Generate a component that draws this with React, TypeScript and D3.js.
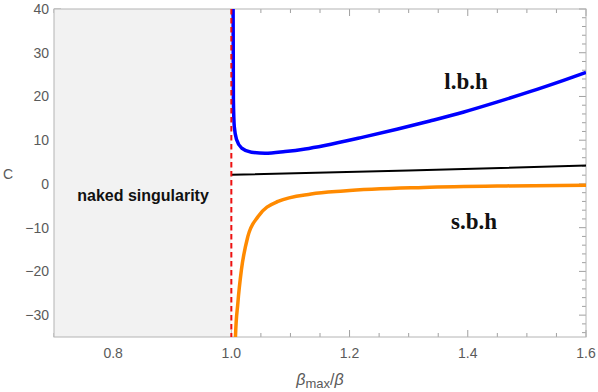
import React, { useEffect } from "react";
import * as d3 from "d3";

const W = 598;
const H = 392;

const xDomain = [0.7, 1.6];
const yDomain = [-35, 40];
const xTickLabels = [0.8, 1.0, 1.2, 1.4, 1.6];
const yTickLabels = [-30, -20, -10, 0, 10, 20, 30, 40];
const nakedEnd = 1.0;

const lbhX = [1.002, 1.003, 1.0035, 1.005, 1.009, 1.0175, 1.034, 1.057, 1.091, 1.125, 1.158, 1.223, 1.28, 1.336, 1.392, 1.449, 1.505, 1.562, 1.6];
const lbhC = [45, 39.8, 19.2, 13.1, 10.1, 8.2, 7.25, 7.0, 7.4, 8.0, 8.8, 10.7, 12.5, 14.4, 16.4, 18.7, 21.1, 23.7, 25.5];

const sbhX = [1.006, 1.007, 1.011, 1.017, 1.028, 1.045, 1.079, 1.135, 1.19, 1.325, 1.466, 1.6];
const sbhC = [-40, -34.9, -27.3, -19.7, -12.0, -7.5, -4.0, -2.3, -1.6, -0.8, -0.45, -0.3];

const midX = [1.0, 1.3, 1.6];
const midC = [2.1, 3.1, 4.2];

const m = { left: 54, right: 12, top: 9, bottom: 55 };

export default function App() {
  useEffect(() => {
    document.body.style.margin = "0";
  }, []);

  const x = d3.scaleLinear().domain(xDomain).range([m.left, W - m.right]);
  const y = d3.scaleLinear().domain(yDomain).range([H - m.bottom, m.top]);

  const line = d3
    .line<[number, number]>()
    .x((d) => x(d[0]))
    .y((d) => y(d[1]))
    .curve(d3.curveMonotoneX);

  const lbh = line(lbhX.map((v, i) => [v, lbhC[i]]) as [number, number][]) || "";
  const sbh = line(sbhX.map((v, i) => [v, sbhC[i]]) as [number, number][]) || "";
  const mid = line(midX.map((v, i) => [v, midC[i]]) as [number, number][]) || "";

  const xMinor = d3.range(14, 33).map((k) => k * 0.05);
  const yMinor = d3.range(-17, 21).map((k) => k * 2);
  const isMajorX = (v: number) => xTickLabels.some((t) => Math.abs(t - v) < 1e-6);
  const isMajorY = (v: number) => yTickLabels.some((t) => Math.abs(t - v) < 1e-6);

  const [x0, x1] = x.range();
  const [y0, y1] = [y(yDomain[1]), y(yDomain[0])];
  const tickColor = "#a0a0a0";
  const labelColor = "#5a5a5a";
  const font = "'Liberation Sans', Arial, sans-serif";
  const serif = "'Liberation Serif', 'Times New Roman', serif";

  return (
    <svg width={W} height={H} style={{ display: "block" }}>
      <defs>
        <clipPath id="plot">
          <rect x={x0} y={y0} width={x1 - x0} height={y1 - y0} />
        </clipPath>
      </defs>
      <rect x={0} y={0} width={W} height={H} fill="#fff" />
      {xMinor.map((v, i) => {
        const len = isMajorX(v) ? 7 : 4;
        const px = x(v);
        return (
          <g key={"xt" + i}>
            <line x1={px} x2={px} y1={y1} y2={y1 - len} stroke={tickColor} strokeWidth={1} />
            <line x1={px} x2={px} y1={y0} y2={y0 + len} stroke={tickColor} strokeWidth={1} />
          </g>
        );
      })}
      {yMinor.map((v, i) => {
        const len = isMajorY(v) ? 7 : 4;
        const py = y(v);
        return (
          <g key={"yt" + i}>
            <line x1={x0} x2={x0 + len} y1={py} y2={py} stroke={tickColor} strokeWidth={1} />
            <line x1={x1} x2={x1 - len} y1={py} y2={py} stroke={tickColor} strokeWidth={1} />
          </g>
        );
      })}
      <rect x={x0} y={y0} width={x(nakedEnd) - x0} height={y1 - y0} fill="#f2f2f2" />
      <rect x={x0} y={y0} width={x1 - x0} height={y1 - y0} fill="none" stroke="#b4b4b4" strokeWidth={1} />
      <g clipPath="url(#plot)" fill="none">
        <path d={mid} stroke="#000" strokeWidth={2} />
        <path d={sbh} stroke="#ff8a00" strokeWidth={3.5} />
        <path d={lbh} stroke="#0000ff" strokeWidth={3.5} />
        <line x1={x(nakedEnd)} x2={x(nakedEnd)} y1={y0} y2={y1} stroke="#ee1111" strokeWidth={2} strokeDasharray="5.5,3.5" />
      </g>
      {xTickLabels.map((v, i) => (
        <text key={"xl" + i} x={x(v)} y={y1 + 21} textAnchor="middle" fontFamily={font} fontSize={14} fill={labelColor}>
          {v.toFixed(1)}
        </text>
      ))}
      {yTickLabels.map((v, i) => (
        <text key={"yl" + i} x={x0 - 5} y={y(v) + 5} textAnchor="end" fontFamily={font} fontSize={14} fill={labelColor}>
          {v < 0 ? "\u2212" + Math.abs(v) : String(v)}
        </text>
      ))}
      <text x={8} y={179} textAnchor="middle" fontFamily={font} fontSize={14} fill={labelColor}>
        C
      </text>
      <text x={320} y={385} textAnchor="middle" fontFamily={font} fontSize={16} fill={labelColor}>
        <tspan fontStyle="italic">β</tspan>
        <tspan fontSize={13} dy={3}>max</tspan>
        <tspan dy={-3}>/</tspan>
        <tspan fontStyle="italic">β</tspan>
      </text>
      <text x={143} y={201} textAnchor="middle" fontFamily={font} fontWeight="bold" fontSize={16} fill="#111">
        naked singularity
      </text>
      <text x={466} y={89} textAnchor="middle" fontFamily={serif} fontWeight="bold" fontSize={23} fill="#111">
        l.b.h
      </text>
      <text x={474} y={229} textAnchor="middle" fontFamily={serif} fontWeight="bold" fontSize={23} fill="#111">
        s.b.h
      </text>
    </svg>
  );
}
